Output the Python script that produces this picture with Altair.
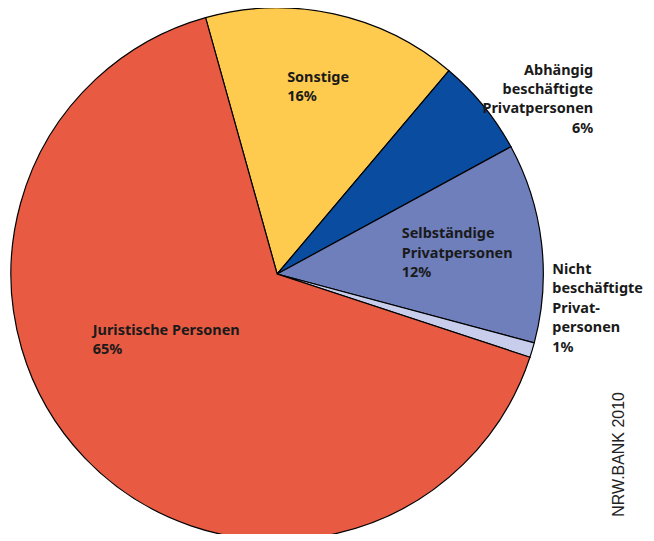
import math
import altair as alt
import pandas as pd

categories = ["Sonstige", "Abhängig beschäftigte Privatpersonen", "Selbständige Privatpersonen",
              "Nicht beschäftigte Privatpersonen", "Juristische Personen"]
shares = [15.5, 5.9, 12.1, 0.9, 65.6]
order = [1, 2, 3, 4, 5]
colors = ["#FECB4F", "#0A4C9F", "#6F7FBC", "#C7CDEA", "#E85B42"]

label_lines = [
    ["Sonstige", "16%"],
    ["Abhängig", "beschäftigte", "Privatpersonen", "6%"],
    ["Selbständige", "Privatpersonen", "12%"],
    ["Nicht", "beschäftigte", "Privat-", "personen", "1%"],
    ["Juristische Personen", "65%"],
]
source_text = "NRW.BANK 2010"

# layout (chart pixel coordinates, not data)
label_pos = [(280, 73, "left"), (587, 66, "right"), (395, 230, "left"),
             (546, 266, "left"), (85, 327, "left")]
start = -15.6 * math.pi / 180

df = pd.DataFrame({"cat": categories, "share": shares, "order": order})

pie = alt.Chart(df).mark_arc(stroke="black", strokeWidth=1.2, outerRadius=267).encode(
    theta=alt.Theta("share:Q", stack=True,
                    scale=alt.Scale(range=[start, start + 2 * math.pi])),
    order=alt.Order("order:Q"),
    color=alt.Color("cat:N", scale=alt.Scale(domain=categories, range=colors), legend=None),
    x=alt.value(270),
    y=alt.value(266),
)

layers = [pie]
for lines, (x, y, al) in zip(label_lines, label_pos):
    layers.append(
        alt.Chart(pd.DataFrame({"t": ["\n".join(lines)]})).mark_text(
            align=al, baseline="alphabetic", font="Noto Sans", fontWeight="bold", fontSize=14.5,
            lineHeight=19.5, lineBreak="\n", color="#1a1a1a"
        ).encode(text="t:N", x=alt.value(x), y=alt.value(y))
    )

layers.append(
    alt.Chart(pd.DataFrame({"t": [source_text]})).mark_text(
        align="center", baseline="middle", angle=270, font="Liberation Sans",
        fontSize=16, color="#222222"
    ).encode(text="t:N", x=alt.value(613), y=alt.value(447))
)

chart = alt.layer(*layers).properties(
    width=640, height=526, padding=0, autosize=alt.AutoSizeParams(type="none")
).configure_view(stroke=None)

chart.save("out.html", embed_options={"renderer": "svg", "actions": False})
